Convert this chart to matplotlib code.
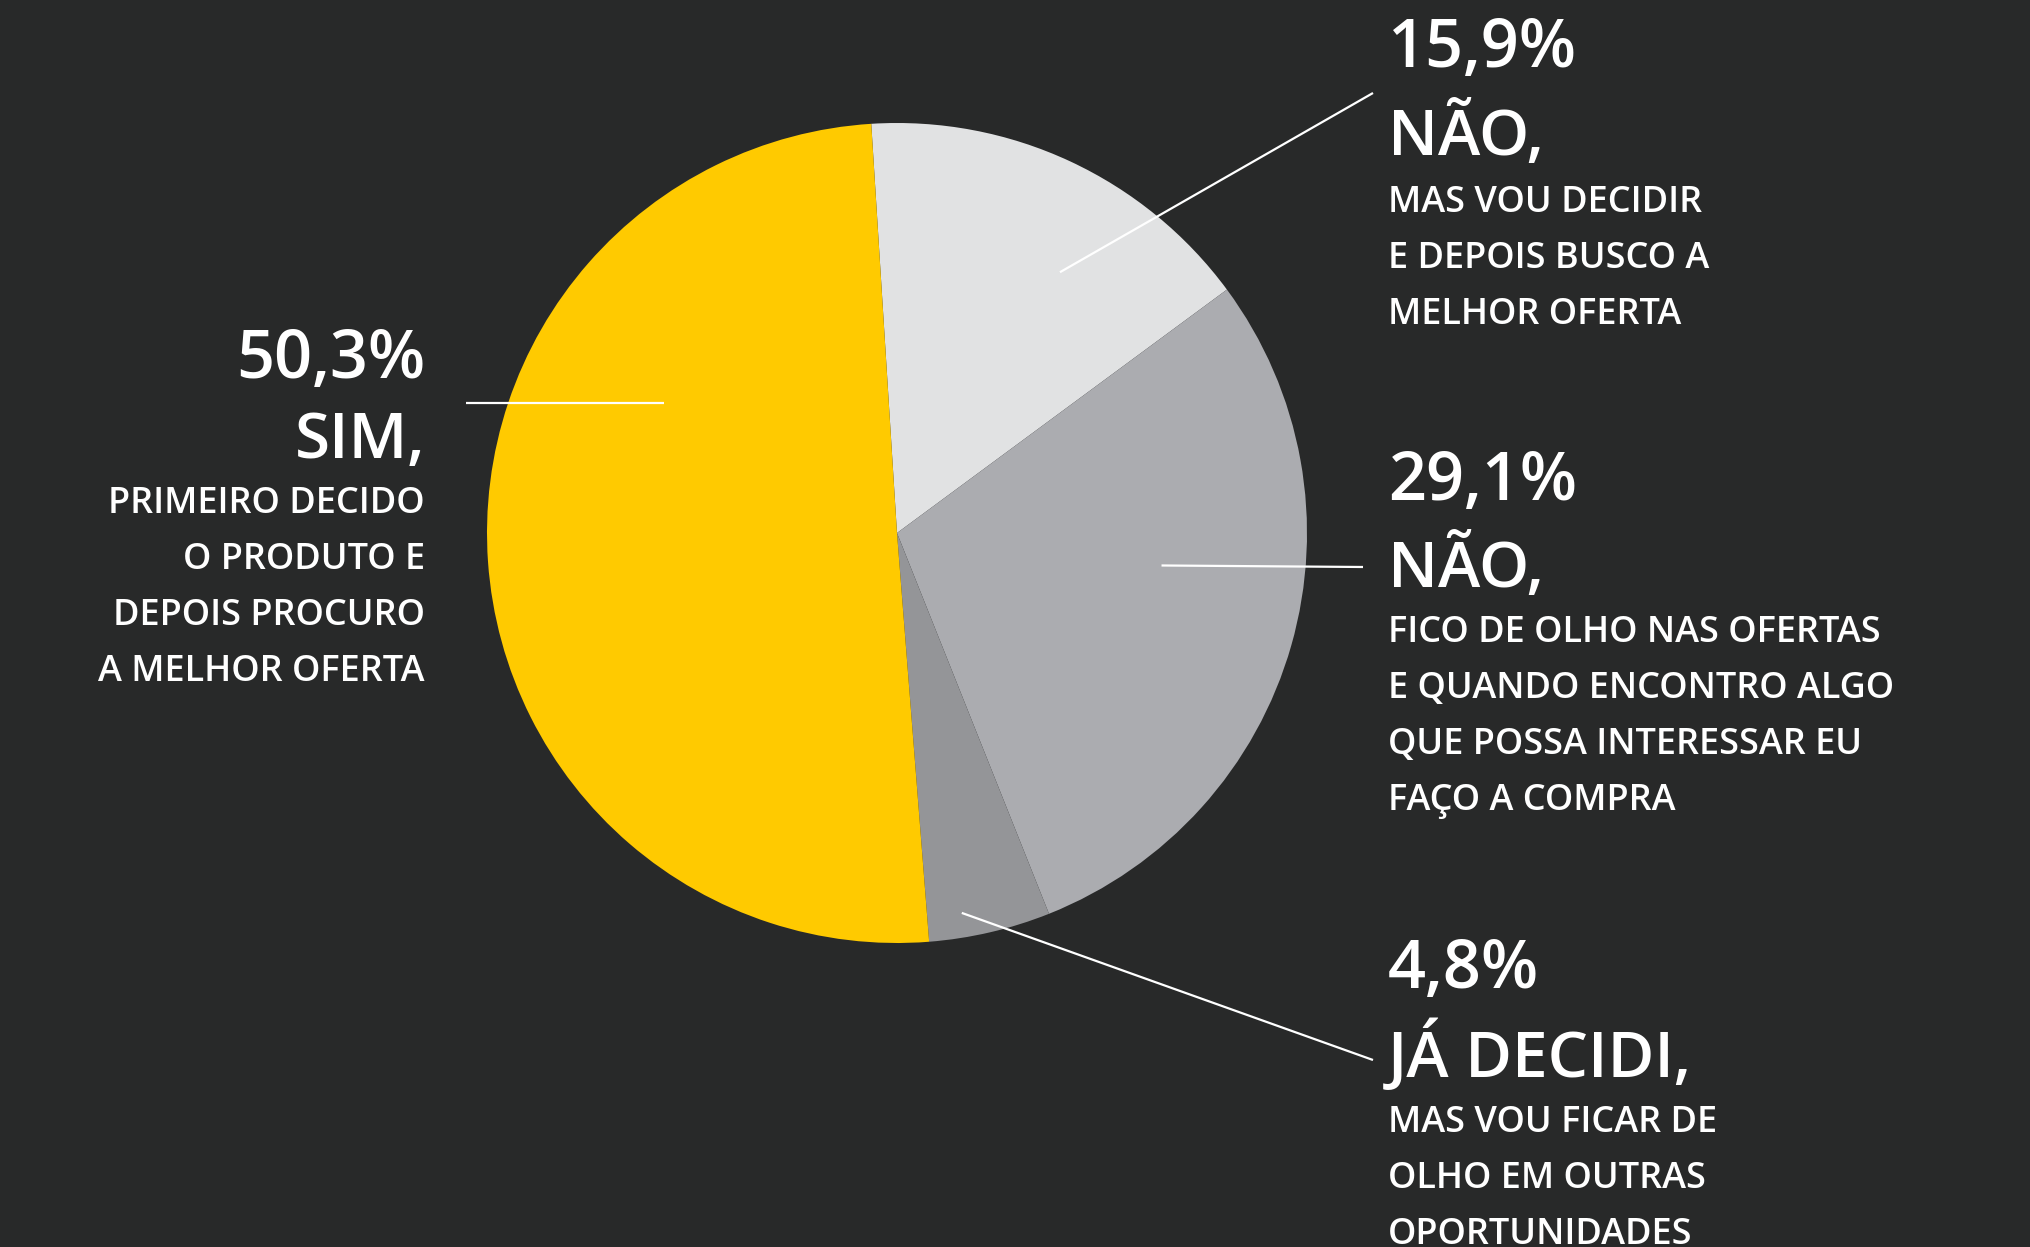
import matplotlib
matplotlib.use('Agg')
import matplotlib.pyplot as plt
import numpy as np

# data (order: clockwise from top)
shares = [15.9, 29.1, 4.8, 50.3]
pct_labels = ['15,9%', '29,1%', '4,8%', '50,3%']
titles = ['NÃO,', 'NÃO,', 'JÁ DECIDI,', 'SIM,']
subtitles = [
    ['MAS VOU DECIDIR', 'E DEPOIS BUSCO A', 'MELHOR OFERTA'],
    ['FICO DE OLHO NAS OFERTAS', 'E QUANDO ENCONTRO ALGO', 'QUE POSSA INTERESSAR EU', 'FAÇO A COMPRA'],
    ['MAS VOU FICAR DE', 'OLHO EM OUTRAS', 'OPORTUNIDADES'],
    ['PRIMEIRO DECIDO', 'O PRODUTO E', 'DEPOIS PROCURO', 'A MELHOR OFERTA'],
]
colors = ['#e1e2e3', '#abacb0', '#949598', '#ffca00']

W, H = 2031, 1247
bg = '#282929'
plt.rcParams['font.family'] = ['Open Sans', 'DejaVu Sans']

fig = plt.figure(figsize=(W / 100, H / 100), dpi=100, facecolor=bg)
ax = fig.add_axes([0, 0, 1, 1])
ax.set_facecolor(bg)

cx, cy, R = 897, H - 533, 410
wedges, _ = ax.pie(shares, colors=colors, startangle=93.6, counterclock=False,
                   center=(cx, cy), radius=R, frame=True,
                   wedgeprops=dict(linewidth=0))
ax.set_xlim(0, W)
ax.set_ylim(0, H)
ax.set_aspect('equal')
ax.axis('off')


def polar(ang, frac):
    a = np.deg2rad(ang)
    return cx + frac * R * np.cos(a), cy + frac * R * np.sin(a)


# leader lines: start inside the wedge, end next to the label
starts = [polar(58, 0.75), polar(-7, 0.65), None, (664, H - 403)]
w = wedges[2]
starts[2] = polar(w.theta1 + 0.3 * (w.theta2 - w.theta1), 0.94)
ends = [(1373, H - 93), (1363, H - 567), (1373, H - 1060), (466, H - 403)]
for s, e in zip(starts, ends):
    ax.plot([s[0], e[0]], [s[1], e[1]], color='white', lw=1.6, solid_capstyle='butt')

# label blocks: x, ha, baseline of pct, title, first sub line
blocks = [
    (1388, 'left', 67, 155, 212),
    (1388, 'left', 500, 587, 642),
    (1388, 'left', 988, 1077, 1132),
    (425, 'right', 378, 458, 513),
]
for i, (x, ha, yp, yt, ys) in enumerate(blocks):
    ax.text(x, H - yp, pct_labels[i], color='white', ha=ha, va='baseline',
            fontsize=48, fontweight='semibold')
    ax.text(x, H - yt, titles[i], color='white', ha=ha, va='baseline',
            fontsize=46, fontweight='semibold')
    for k, line in enumerate(subtitles[i]):
        ax.text(x, H - (ys + k * 56), line, color='white', ha=ha, va='baseline',
                fontsize=26, fontweight='semibold')

fig.savefig('out.png', dpi=100, facecolor=bg)
